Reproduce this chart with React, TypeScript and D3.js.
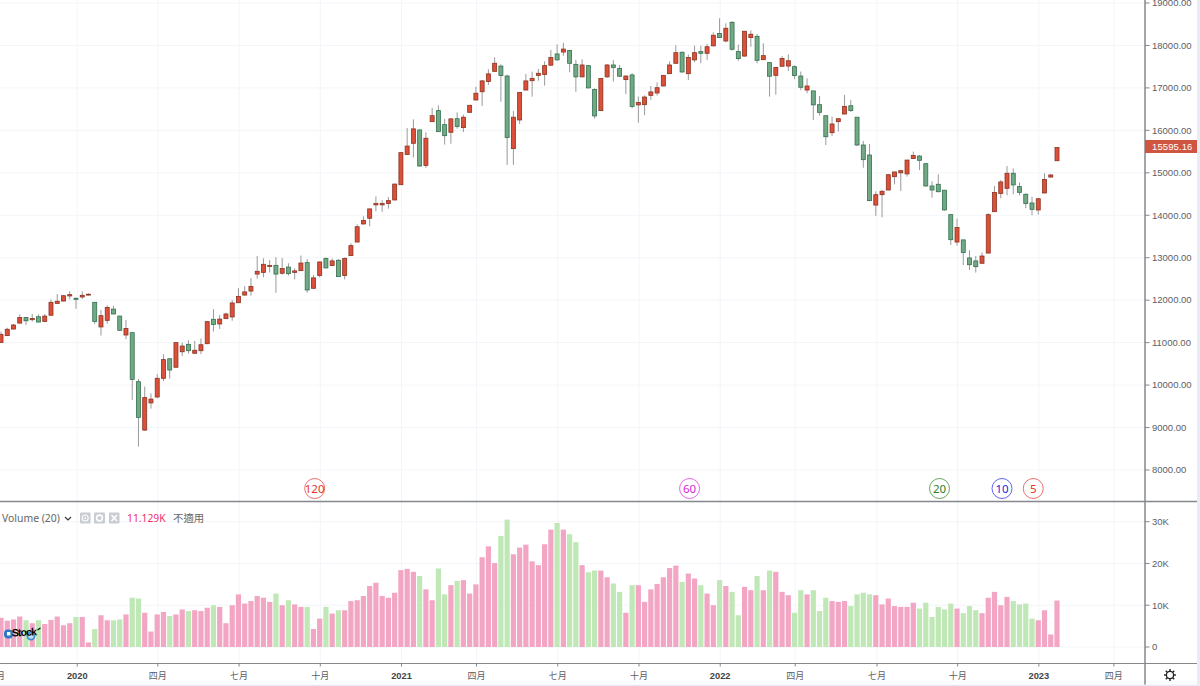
import React from "react";
import * as d3 from "d3";

const opens = [11005,11165,11320,11460,11590,11540,11610,11500,11645,11925,11980,12100,12045,12075,12120,11950,11370,11525,11790,11625,11180,11235,10080,8940,9580,9720,10160,10620,10420,10785,10960,10750,10810,10975,11550,11440,11565,11605,11940,12120,12215,12615,12655,12800,12820,12635,12780,12655,12695,12885,12280,12580,12980,12815,12940,12580,13050,13370,13795,13930,14245,14245,14275,14360,14720,15430,15695,16010,15175,16205,16465,16135,15955,16275,16065,16425,16715,16910,17150,17390,17515,17280,15570,16245,16950,17170,17295,17315,17535,17800,17845,17880,17555,17260,17525,16965,16465,17260,17540,17460,17195,17305,16600,16605,16825,16880,17045,17335,17580,17840,17335,17660,17855,17815,17990,18280,18105,18545,17855,17750,18185,18215,17665,17595,17295,17510,17515,17500,17280,16950,16930,16605,16345,15945,16205,16385,16580,16310,15655,15420,14240,14485,14595,14910,15000,14975,15335,15395,15215,14690,14730,14590,14015,13370,13420,12995,12925,12870,13110,14085,14515,14635,14990,14675,14495,14290,14125,14525,14900,15285];
const highs = [11260,11350,11440,11665,11610,11675,11665,11675,12020,12145,12120,12210,12065,12210,12160,11955,11770,11880,11865,11635,11535,11235,10145,9965,9805,10260,10725,10630,11000,11000,11055,11040,11100,11495,11790,11650,11705,12005,12285,12335,12520,13040,12985,12945,13010,12995,12870,12750,13050,12970,12595,12910,13010,12985,12965,13010,13340,13785,13975,14155,14445,14355,14430,14745,15485,16055,16260,16025,15955,16530,16590,16270,16285,16425,16370,16600,17030,17185,17440,17720,17555,17315,16455,16895,17330,17385,17445,17625,17895,18025,18065,17895,17660,17675,17540,16990,17225,17565,17660,17540,17290,17350,16795,16825,17045,17130,17305,17625,18005,17855,17790,17995,17995,18035,18310,18640,18520,18575,18020,18340,18355,18270,18050,17605,17485,17750,17790,17535,17385,17225,16930,16810,16345,16325,16275,16835,16715,16310,15750,15680,14565,14595,14975,15025,15065,15310,15500,15420,15225,14800,14965,14595,14015,13920,13425,13180,13040,13125,14045,14690,14830,15160,15105,14775,14515,14440,14405,14990,14965,15610];
const lows = [11000,11155,11315,11455,11415,11495,11480,11495,11635,11920,11975,12020,11800,12030,12115,11440,11165,11445,11665,11275,11080,9650,8550,8920,9445,9690,10095,10150,10410,10685,10740,10730,10730,10965,11260,11320,11555,11515,11935,12115,12105,12505,12540,12655,12175,12600,12580,12490,12690,12175,12270,12540,12750,12805,12545,12490,13040,13365,13785,13740,14095,14080,14155,14355,14715,15420,15360,15145,15115,16200,15960,15665,15685,16040,15960,16420,16710,16575,17070,17385,16675,15185,15185,16150,16945,16795,17170,17055,17525,17645,17755,17370,16910,17250,16990,16275,16455,17240,17150,17260,16855,16520,16180,16355,16715,16820,17040,17330,17570,17360,17185,17605,17580,17660,17980,18175,18075,17880,17640,17735,17970,17580,17660,16795,16840,17500,17400,17205,16945,16875,16245,16345,15655,15870,15970,16380,16435,15630,15120,14335,13985,13950,14590,14730,14570,14910,15325,15065,14675,14415,14540,14110,13300,13285,12830,12710,12650,12850,13105,14075,14400,14470,14495,14470,14170,14000,14015,14515,14885,15280];
const closes = [11195,11315,11415,11590,11515,11570,11485,11625,11950,11975,12105,12130,12020,12115,12140,11500,11635,11830,11675,11290,11335,10135,9240,9705,9670,10160,10600,10355,11000,10920,10810,10820,10950,11495,11425,11555,11675,11935,12090,12195,12325,12680,12845,12815,12615,12745,12625,12690,12875,12240,12525,12900,12760,12925,12555,12980,13285,13730,13875,14150,14275,14275,14345,14735,15475,15630,16035,15160,15815,16345,15970,15875,16270,16090,16310,16590,16875,17165,17330,17580,17290,15830,16310,16890,17165,17225,17345,17525,17715,17660,17915,17580,17260,17540,17000,16340,17220,17540,17480,17275,17280,16565,16655,16785,16905,17005,17295,17540,17830,17375,17715,17830,17815,17970,18240,18185,18405,17910,17690,18335,18265,17650,17760,17275,17480,17695,17640,17290,17015,17045,16600,16425,15850,16150,16275,16565,16465,15655,15310,14345,14485,14565,14955,15020,15050,15300,15410,15295,14690,14595,14555,14125,13425,13710,13125,12835,12790,13040,14015,14535,14785,14990,14715,14540,14280,14140,14390,14845,14950,15595.16];
const volumesK = [7.0,6.3,6.6,7.3,6.4,5.7,6.4,5.5,6.5,7.3,5.2,5.7,7.2,7.2,1.1,4.3,7.6,6.4,6.4,6.6,7.8,11.8,11.6,8.2,3.7,7.8,8.4,7.4,7.8,9.0,8.6,8.8,8.6,9.4,10.0,9.6,5.7,10.0,12.6,10.4,11.0,12.2,11.8,10.8,12.8,10.0,11.2,10.2,9.6,9.6,4.3,6.8,9.6,8.0,8.8,8.8,11.0,11.2,12.2,14.6,15.4,12.2,11.8,13.0,18.4,18.7,18.0,17.0,13.8,11.2,18.8,12.6,14.8,15.8,16.0,12.8,15.0,21.5,24.1,20.1,26.6,30.5,22.2,23.8,24.5,20.5,19.6,24.6,28.1,29.7,28.1,27.0,25.1,19.6,17.9,18.3,18.3,16.7,15.2,13.2,8.2,14.8,14.8,10.8,13.8,15.1,16.7,18.9,19.5,15.6,17.6,16.4,14.8,12.8,10.0,16.0,14.6,13.2,7.6,14.4,13.6,17.0,13.6,18.3,18.0,13.2,12.4,8.2,13.6,12.6,13.6,8.6,11.8,11.0,10.8,11.0,9.8,12.6,13.0,12.6,12.4,10.2,11.6,9.8,9.6,9.6,10.6,9.2,10.6,7.2,9.6,9.0,10.4,9.2,8.1,9.8,8.8,8.1,11.8,13.2,10.0,12.0,11.0,10.2,10.4,6.8,6.4,8.8,3.0,11.129];

const priceTicks = [8000,9000,10000,11000,12000,13000,14000,15000,16000,17000,18000,19000];
const volumeTicks = [0,10000,20000,30000];
const volumeTickLabels = ["0","10K","20K","30K"];
const timeTickPositions = [-0.8,12.2,25.1,38.1,51.1,64.1,76.1,89.1,102.1,115.1,127.1,140.2,153.1,166.1,178.1];
const timeTickLabels = ["十月","2020","四月","七月","十月","2021","四月","七月","十月","2022","四月","七月","十月","2023","四月"];
const periodLabels = ["120","60","20","10","5"];
const periodBarIndex = [50.2,110.2,150.2,160.2,165.2];
const periodColors = ["#e5322d","#d827d8","#2a7d1e","#2323e0","#e5322d"];
const lastPrice = 15595.16;

const W = 1200, H = 686;
const AXIS_X = 1145, PANE_Y = 501.5, BOTTOM_Y = 663.5;
const x = d3.scaleLinear().domain([0, 169]).range([1, 1057]);
const y = d3.scaleLinear().domain([8000, 19000]).range([470, 3]);
const yv = d3.scaleLinear().domain([0, 30000]).range([647, 521.7]);

const SANS = "'Liberation Sans', Arial, sans-serif";
const NOTO = "'Noto Sans', 'Noto Sans CJK TC', sans-serif";
const CJK = "'Noto Sans CJK TC', 'Noto Sans', sans-serif";
const GRID = "#f2f5f9";
const AXIS = "#85878c";
const TEXT = "#5c6066";
const fmt = d3.format(".2f");

function Gear({ cx, cy }: { cx: number; cy: number }) {
  return (
    <g stroke="#222" fill="none">
      <circle cx={cx} cy={cy} r={3.6} strokeWidth={1.3} />
      {d3.range(8).map((k) => {
        const a = (k * Math.PI) / 4;
        return (
          <line key={k} x1={cx + 3.6 * Math.cos(a)} y1={cy + 3.6 * Math.sin(a)}
            x2={cx + 6 * Math.cos(a)} y2={cy + 6 * Math.sin(a)} strokeWidth={1.4} />
        );
      })}
    </g>
  );
}

export default function App() {
  return (
    <svg width={W} height={H} viewBox={`0 0 ${W} ${H}`}
      style={{ position: "absolute", left: 0, top: 0, display: "block", background: "#fff" }}>
      <defs>
        <clipPath id="plot"><rect x={0} y={0} width={AXIS_X} height={H} /></clipPath>
        <filter id="soft" x="-5%" y="-5%" width="110%" height="110%"><feGaussianBlur stdDeviation="0.4" /></filter>
      </defs>

      <g clipPath="url(#plot)">
        {priceTicks.map((t) => (
          <line key={t} x1={0} x2={AXIS_X} y1={y(t)} y2={y(t)} stroke={GRID} />
        ))}
        {volumeTicks.map((t) => (
          <line key={t} x1={0} x2={AXIS_X} y1={yv(t)} y2={yv(t)} stroke={GRID} />
        ))}
        {timeTickPositions.map((t, i) => (
          <line key={i} x1={x(t)} x2={x(t)} y1={0} y2={BOTTOM_Y} stroke={GRID} />
        ))}

        <g filter="url(#soft)">
          {volumesK.map((v, i) => (
            <rect key={i} x={x(i) - 2.6} width={5.2} y={yv(v * 1000)} height={yv(0) - yv(v * 1000)}
              fill={closes[i] >= opens[i] ? "#f3a6c4" : "#bfe8b6"} />
          ))}
        </g>

        <g filter="url(#soft)">
          {opens.map((o, i) => (
            <line key={i} x1={x(i)} x2={x(i)} y1={y(highs[i])} y2={y(lows[i])} stroke="#9a9a9a" strokeWidth={1} />
          ))}
          {opens.map((o, i) => {
            const up = closes[i] >= o;
            const top = y(Math.max(o, closes[i]));
            const bot = y(Math.min(o, closes[i]));
            return (
              <rect key={i} x={x(i) - 2} width={4} y={top} height={Math.max(bot - top, 0.8)}
                fill={up ? "#dc4f37" : "#72a985"} stroke={up ? "#8a3322" : "#32704e"} strokeWidth={0.8} />
            );
          })}
        </g>

        {periodLabels.map((p, i) => (
          <g key={p}>
            <circle cx={x(periodBarIndex[i])} cy={488.5} r={10} fill="#fff" stroke={periodColors[i]} strokeOpacity={0.7} />
            <text x={x(periodBarIndex[i])} y={492.5} textAnchor="middle" fontSize={11.5} fontFamily={NOTO} fill={periodColors[i]}>{p}</text>
          </g>
        ))}

        <g>
          <rect x={4} y={629.5} width={9} height={9} rx={4} fill="#2f79c4" />
          <rect x={7} y={632} width={3.4} height={3.4} fill="#fff" />
          <circle cx={31} cy={636} r={3.6} fill="#bfe0f5" stroke="#3f8fd0" strokeWidth={1.8} />
          <text x={12} y={636.5} fontSize={10.5} fontWeight={700} fontFamily={SANS} fill="#000" textLength={25}
            transform="rotate(-3 12 636.5)">Stock</text>
          <path d="M37.5 630 l3 -2" stroke="#000" strokeWidth={1.2} />
        </g>
      </g>

      <line x1={0} x2={1197} y1={PANE_Y} y2={PANE_Y} stroke={AXIS} strokeWidth={1.5} />
      <line x1={0} x2={1197} y1={BOTTOM_Y} y2={BOTTOM_Y} stroke={AXIS} strokeWidth={1.2} />
      <line x1={AXIS_X} x2={AXIS_X} y1={0} y2={H} stroke={AXIS} strokeWidth={1.5} />
      <rect x={1197} y={0} width={3} height={H} fill="#e8ecf4" />
      <rect x={0} y={684.5} width={1197} height={1.5} fill="#e8ecf4" />

      {priceTicks.map((t) => (
        <g key={t}>
          <line x1={AXIS_X} x2={AXIS_X + 4.5} y1={y(t)} y2={y(t)} stroke={AXIS} />
          <text x={1152} y={y(t) + 3.3} fontSize={9.5} fontFamily={SANS} fill={TEXT}>{fmt(t)}</text>
        </g>
      ))}
      <rect x={1145} y={140} width={52} height={13} fill="#cf5540" />
      <text x={1152} y={149.8} fontSize={9.5} fontFamily={SANS} fill="#fff" letterSpacing={0.1}>{fmt(lastPrice)}</text>

      {volumeTicks.map((t, i) => (
        <g key={t}>
          <line x1={AXIS_X} x2={AXIS_X + 4.5} y1={yv(t)} y2={yv(t)} stroke={AXIS} />
          <text x={1152} y={yv(t) + 3.3} fontSize={9.5} fontFamily={SANS} fill={TEXT}>{volumeTickLabels[i]}</text>
        </g>
      ))}

      {timeTickPositions.map((t, i) => {
        const isYear = /^\d/.test(timeTickLabels[i]);
        return (
          <g key={i}>
            <line x1={x(t)} x2={x(t)} y1={BOTTOM_Y} y2={BOTTOM_Y + 3} stroke={AXIS} />
            <text x={x(t)} y={679} textAnchor="middle" fontSize={isYear ? 9.3 : 9} fontWeight={isYear ? 700 : 400}
              fontFamily={isYear ? SANS : CJK} fill={isYear ? "#444" : TEXT}>{timeTickLabels[i]}</text>
          </g>
        );
      })}

      <Gear cx={1170} cy={675} />

      <text x={2} y={522} fontSize={10.4} fontFamily={NOTO} fill="#666">Volume (20)</text>
      <path d="M65 517 l3 3 l3 -3" fill="none" stroke="#333" strokeWidth={1.1} />
      <g fill="#c9ccd2">
        <rect x={80} y={512.5} width={10.5} height={11} rx={1} />
        <rect x={94} y={512.5} width={11} height={11} rx={1} />
        <rect x={109} y={512.5} width={10.5} height={11} rx={1} />
      </g>
      <circle cx={85.2} cy={518} r={3} fill="none" stroke="#fff" strokeWidth={1.1} />
      <circle cx={85.2} cy={518} r={0.9} fill="#fff" />
      <circle cx={99.5} cy={518} r={2.9} fill="none" stroke="#fff" strokeWidth={1.6} />
      <path d="M111.5 515 l5.5 6 M117 515 l-5.5 6" stroke="#fff" strokeWidth={1.6} />
      <text x={127} y={522} fontSize={10.3} fontFamily={NOTO} fill="#ef2f6e">11.129K</text>
      <text x={173} y={522} fontSize={10.4} fontFamily={CJK} fill="#666">不適用</text>
    </svg>
  );
}
